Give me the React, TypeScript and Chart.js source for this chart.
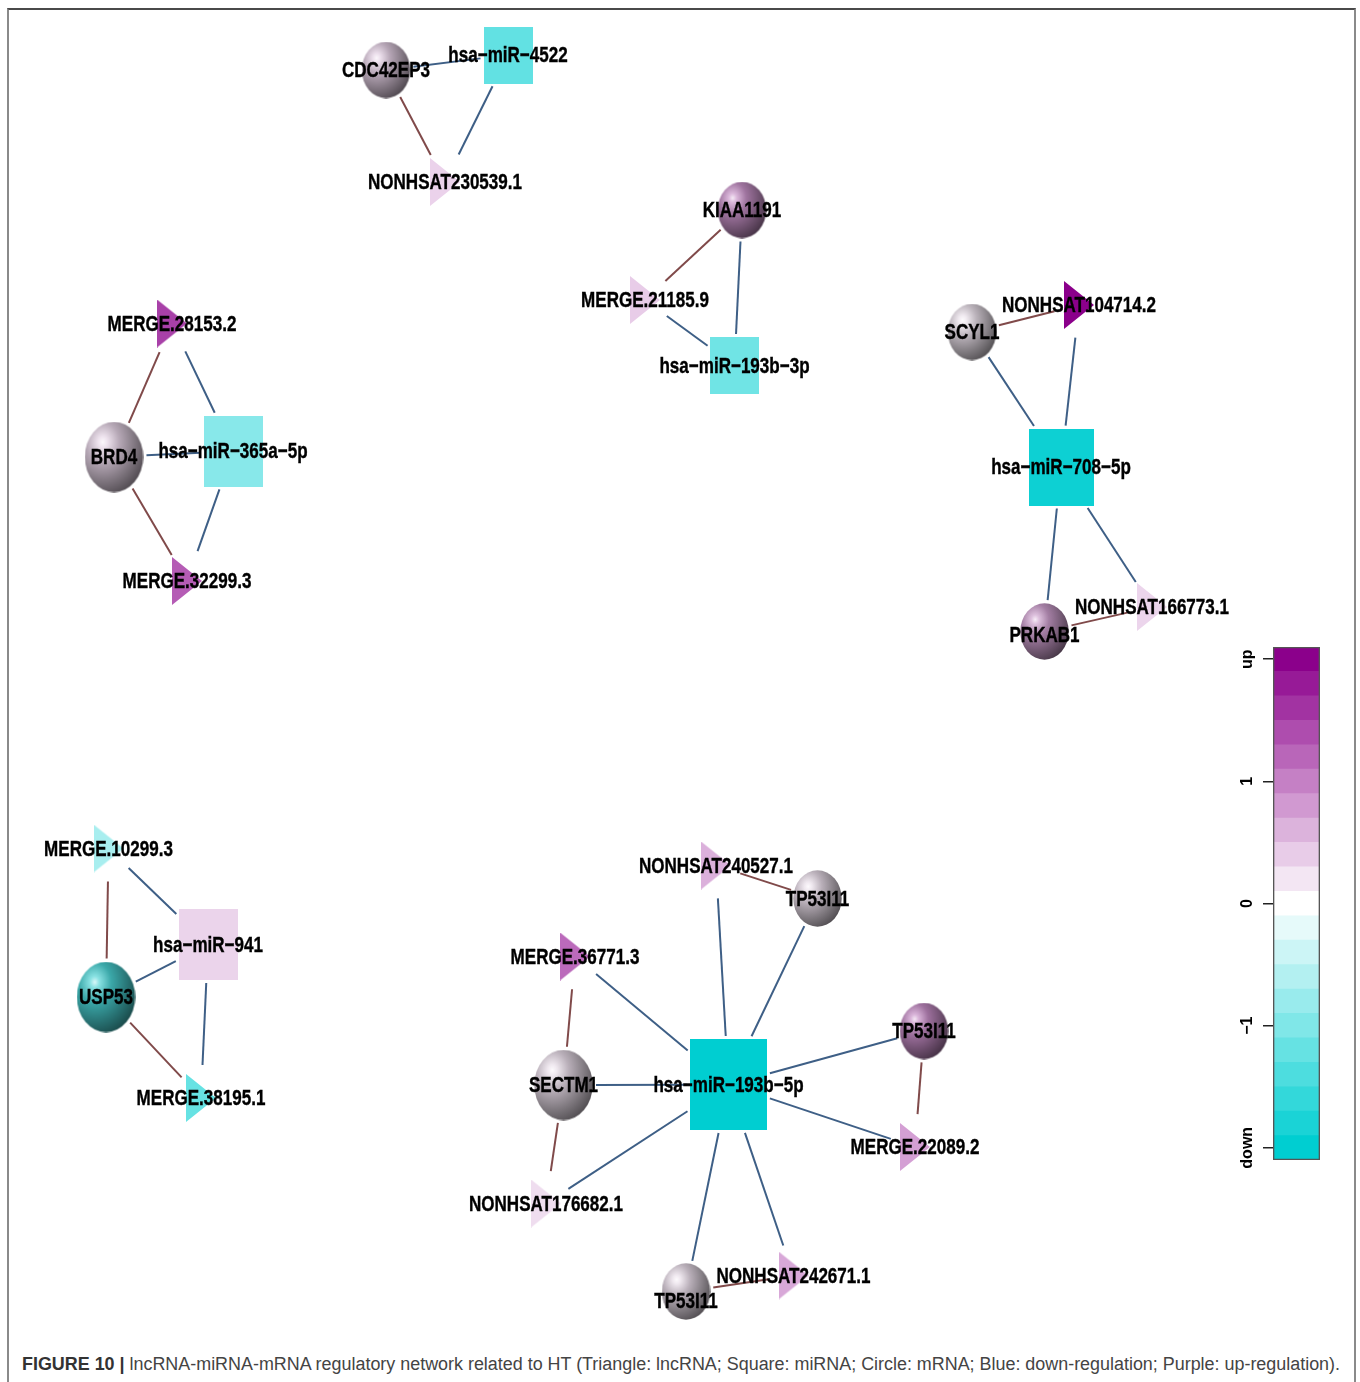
import React, { useEffect, useLayoutEffect, useRef } from 'react';
import { Chart, registerables } from 'chart.js';

Chart.register(...registerables);

// ------------------------------------------------------------------ data
const nodeIds = [
  'CDC42EP3', 'hsa-miR-4522', 'NONHSAT230539.1',
  'KIAA1191', 'MERGE.21185.9', 'hsa-miR-193b-3p',
  'MERGE.28153.2', 'BRD4', 'hsa-miR-365a-5p', 'MERGE.32299.3',
  'SCYL1', 'NONHSAT104714.2', 'hsa-miR-708-5p', 'PRKAB1', 'NONHSAT166773.1',
  'MERGE.10299.3', 'hsa-miR-941', 'USP53', 'MERGE.38195.1',
  'hsa-miR-193b-5p', 'NONHSAT240527.1', 'TP53I11_a', 'MERGE.36771.3', 'SECTM1',
  'TP53I11_b', 'MERGE.22089.2', 'NONHSAT176682.1', 'TP53I11_c', 'NONHSAT242671.1',
];
const nodeLabels = [
  'CDC42EP3', 'hsa\u2212miR\u22124522', 'NONHSAT230539.1',
  'KIAA1191', 'MERGE.21185.9', 'hsa\u2212miR\u2212193b\u22123p',
  'MERGE.28153.2', 'BRD4', 'hsa\u2212miR\u2212365a\u22125p', 'MERGE.32299.3',
  'SCYL1', 'NONHSAT104714.2', 'hsa\u2212miR\u2212708\u22125p', 'PRKAB1', 'NONHSAT166773.1',
  'MERGE.10299.3', 'hsa\u2212miR\u2212941', 'USP53', 'MERGE.38195.1',
  'hsa\u2212miR\u2212193b\u22125p', 'NONHSAT240527.1', 'TP53I11', 'MERGE.36771.3', 'SECTM1',
  'TP53I11', 'MERGE.22089.2', 'NONHSAT176682.1', 'TP53I11', 'NONHSAT242671.1',
];
const nodeTypes = [
  'mRNA', 'miRNA', 'lncRNA',
  'mRNA', 'lncRNA', 'miRNA',
  'lncRNA', 'mRNA', 'miRNA', 'lncRNA',
  'mRNA', 'lncRNA', 'miRNA', 'mRNA', 'lncRNA',
  'lncRNA', 'miRNA', 'mRNA', 'lncRNA',
  'miRNA', 'lncRNA', 'mRNA', 'lncRNA', 'mRNA',
  'mRNA', 'lncRNA', 'lncRNA', 'mRNA', 'lncRNA',
];
// layout coordinates of the network
const nodeX = [
  386, 508, 445,
  742, 645, 734.5,
  172, 114, 233, 187,
  972, 1079, 1061, 1044.5, 1152,
  108.5, 208, 106, 201,
  728.5, 716, 817.5, 575, 563.5,
  924, 915, 546, 686, 793.5,
];
const nodeY = [
  70, 55, 182,
  210, 300, 365.5,
  323.5, 457, 451, 581,
  332, 305, 467, 631.5, 607,
  848.5, 944.5, 997, 1098,
  1084.5, 865.5, 898.5, 956.5, 1085,
  1031, 1147, 1203.5, 1291.5, 1275.5,
];
// regulation value (down = -2 ... up = +2)
const nodeValue = [
  0.3, -1.23, 0.35,
  0.8, 0.4, -1.12,
  1.5, 0.25, -0.93, 1.28,
  0.15, 2.0, -1.9, 0.7, 0.33,
  -0.68, 0.34, -1.4, -1.2,
  -2.0, 0.62, 0.2, 1.17, 0.2,
  0.85, 0.75, 0.27, 0.2, 0.68,
];

const edgeFrom = [
  'CDC42EP3', 'CDC42EP3', 'hsa-miR-4522',
  'KIAA1191', 'KIAA1191', 'MERGE.21185.9',
  'BRD4', 'BRD4', 'BRD4', 'hsa-miR-365a-5p', 'hsa-miR-365a-5p',
  'SCYL1', 'SCYL1', 'hsa-miR-708-5p', 'hsa-miR-708-5p', 'hsa-miR-708-5p', 'PRKAB1',
  'USP53', 'USP53', 'USP53', 'hsa-miR-941', 'hsa-miR-941',
  'hsa-miR-193b-5p', 'hsa-miR-193b-5p', 'hsa-miR-193b-5p', 'hsa-miR-193b-5p', 'hsa-miR-193b-5p',
  'hsa-miR-193b-5p', 'hsa-miR-193b-5p', 'hsa-miR-193b-5p', 'hsa-miR-193b-5p',
  'TP53I11_a', 'SECTM1', 'SECTM1', 'TP53I11_b', 'TP53I11_c',
];
const edgeTo = [
  'hsa-miR-4522', 'NONHSAT230539.1', 'NONHSAT230539.1',
  'MERGE.21185.9', 'hsa-miR-193b-3p', 'hsa-miR-193b-3p',
  'MERGE.28153.2', 'hsa-miR-365a-5p', 'MERGE.32299.3', 'MERGE.28153.2', 'MERGE.32299.3',
  'NONHSAT104714.2', 'hsa-miR-708-5p', 'NONHSAT104714.2', 'PRKAB1', 'NONHSAT166773.1', 'NONHSAT166773.1',
  'MERGE.10299.3', 'hsa-miR-941', 'MERGE.38195.1', 'MERGE.10299.3', 'MERGE.38195.1',
  'NONHSAT240527.1', 'TP53I11_a', 'MERGE.36771.3', 'SECTM1', 'TP53I11_b',
  'MERGE.22089.2', 'NONHSAT176682.1', 'TP53I11_c', 'NONHSAT242671.1',
  'NONHSAT240527.1', 'MERGE.36771.3', 'NONHSAT176682.1', 'MERGE.22089.2', 'NONHSAT242671.1',
];

const colorbarBands = [
  -2, -1.8, -1.6, -1.4, -1.2, -1, -0.8, -0.6, -0.4, -0.2, 0,
  0.2, 0.4, 0.6, 0.8, 1, 1.2, 1.4, 1.6, 1.8, 2,
];
const colorbarTicks = [-2, -1, 0, 1, 2];
const colorbarTickLabels = ['down', '\u22121', '0', '1', 'up'];

const captionBold = 'FIGURE 10 |';
const captionText =
  ' lncRNA-miRNA-mRNA regulatory network related to HT (Triangle: lncRNA; Square: miRNA; Circle: mRNA; Blue: down-regulation; Purple: up-regulation).';

// ------------------------------------------------------------------ style
const UP_RGB = [139, 0, 139];
const DOWN_RGB = [0, 206, 209];
const BAND_HALF = 0.1;
const SIZE_BY_DEGREE: Record<number, [number, number]> = {
  2: [49, 57],
  3: [59, 71],
  4: [65, 77],
  9: [77, 91],
};
const TRI_SIZE: [number, number] = [30, 48];
const TRI_CLIP: [number, number] = [22, 30];
const EDGE_GAP = 3;
const BLUE = '#3e5f86';
const BROWN = '#804a4a';
const LABEL_FONT = 'bold 22px "Liberation Sans", Arial, sans-serif';
const LABEL_REF_TEXT = 'NONHSAT230539.1';
const LABEL_REF_WIDTH = 154;
const LABEL_NUDGE: Record<string, number> = { TP53I11_c: 9, PRKAB1: 3 };
const CB_LABEL_OFFSET = 25.5;

function valueColor(v: number): number[] {
  const t = Math.min(1, Math.abs(v) / 2);
  const c = v >= 0 ? UP_RGB : DOWN_RGB;
  return c.map((ch) => Math.round(255 + (ch - 255) * t));
}
const rgbStr = (c: number[]) => `rgb(${c[0]},${c[1]},${c[2]})`;
const mixWhite = (c: number[], w: number) => c.map((ch) => Math.round(ch + (255 - ch) * w));
const shade = (c: number[], k: number) => c.map((ch) => Math.round(ch * k));

function sphereImage(w: number, h: number, rgb: number[]) {
  const cv = document.createElement('canvas');
  cv.width = w;
  cv.height = h;
  const g = cv.getContext('2d')!;
  g.translate(w / 2, h / 2);
  g.scale(1, h / w);
  const r = w / 2;
  const hx = -0.38 * r;
  const hy = -0.42 * r;
  const grad = g.createRadialGradient(hx, hy, 0, hx, hy, 1.6 * r);
  grad.addColorStop(0, rgbStr(mixWhite(rgb, 0.8)));
  grad.addColorStop(0.1, rgbStr(mixWhite(shade(rgb, 0.95), 0.35)));
  grad.addColorStop(0.35, rgbStr(shade(rgb, 0.76)));
  grad.addColorStop(0.7, rgbStr(shade(rgb, 0.52)));
  grad.addColorStop(1, rgbStr(shade(rgb, 0.32)));
  g.fillStyle = grad;
  g.beginPath();
  g.arc(0, 0, r - 0.3, 0, Math.PI * 2);
  g.fill();
  return cv;
}
function rectImage(w: number, h: number, rgb: number[]) {
  const cv = document.createElement('canvas');
  cv.width = w;
  cv.height = h;
  const g = cv.getContext('2d')!;
  g.fillStyle = rgbStr(rgb);
  g.fillRect(0, 0, w, h);
  return cv;
}
function triImage(w: number, h: number, rgb: number[]) {
  const cv = document.createElement('canvas');
  cv.width = w;
  cv.height = h;
  const g = cv.getContext('2d')!;
  g.fillStyle = rgbStr(rgb);
  g.beginPath();
  g.moveTo(0, 0);
  g.lineTo(w, h / 2);
  g.lineTo(0, h);
  g.closePath();
  g.fill();
  return cv;
}

export default function App() {
  const mainRef = useRef<HTMLCanvasElement>(null);
  const cbRef = useRef<HTMLCanvasElement>(null);
  const capRef = useRef<HTMLDivElement>(null);

  useLayoutEffect(() => {
    const el = capRef.current;
    if (!el) return;
    el.style.transform = 'none';
    const w = el.getBoundingClientRect().width;
    if (w > 0) el.style.transform = `scaleX(${1318 / w})`;
  }, []);

  useEffect(() => {
    const idx = new Map(nodeIds.map((id, i) => [id, i]));
    const degree = nodeIds.map(
      (id) => edgeFrom.filter((f) => f === id).length + edgeTo.filter((t) => t === id).length,
    );
    const dims = nodeIds.map((_, i) =>
      nodeTypes[i] === 'lncRNA' ? TRI_SIZE : SIZE_BY_DEGREE[degree[i]] || SIZE_BY_DEGREE[2],
    );
    const images = nodeIds.map((_, i) => {
      const rgb = valueColor(nodeValue[i]);
      const [w, h] = dims[i];
      if (nodeTypes[i] === 'mRNA') return sphereImage(w, h, rgb);
      if (nodeTypes[i] === 'miRNA') return rectImage(w, h, rgb);
      return triImage(w, h, rgb);
    });

    const reach = (i: number, ux: number, uy: number) => {
      const [w, h] = dims[i];
      if (nodeTypes[i] === 'miRNA') {
        const a = Math.abs(ux) > 1e-9 ? w / 2 / Math.abs(ux) : Infinity;
        const b = Math.abs(uy) > 1e-9 ? h / 2 / Math.abs(uy) : Infinity;
        return Math.min(a, b) + EDGE_GAP;
      }
      const rx = nodeTypes[i] === 'mRNA' ? w / 2 : TRI_CLIP[0];
      const ry = nodeTypes[i] === 'mRNA' ? h / 2 : TRI_CLIP[1];
      return 1 / Math.sqrt((ux / rx) ** 2 + (uy / ry) ** 2) + EDGE_GAP;
    };

    const edgeSets = edgeFrom.map((f, k) => {
      const a = idx.get(f)!;
      const b = idx.get(edgeTo[k])!;
      const dx = nodeX[b] - nodeX[a];
      const dy = nodeY[b] - nodeY[a];
      const L = Math.hypot(dx, dy);
      const ux = dx / L;
      const uy = dy / L;
      const ra = reach(a, ux, uy);
      const rb = reach(b, -ux, -uy);
      const isMi = nodeTypes[a] === 'miRNA' || nodeTypes[b] === 'miRNA';
      return {
        data: [
          { x: nodeX[a] + ux * ra, y: nodeY[a] + uy * ra },
          { x: nodeX[b] - ux * rb, y: nodeY[b] - uy * rb },
        ],
        showLine: true,
        borderColor: isMi ? BLUE : BROWN,
        borderWidth: 2,
        pointRadius: 0,
        order: 2,
      };
    });

    const labelPlugin = {
      id: 'nodeLabels',
      afterDatasetsDraw(chart: any) {
        const { ctx } = chart;
        const xs = chart.scales.x;
        const ys = chart.scales.y;
        ctx.save();
        ctx.font = LABEL_FONT;
        const sx = LABEL_REF_WIDTH / ctx.measureText(LABEL_REF_TEXT).width;
        ctx.fillStyle = '#000';
        ctx.strokeStyle = '#000';
        ctx.lineWidth = 0.4;
        ctx.textAlign = 'center';
        ctx.textBaseline = 'middle';
        nodeLabels.forEach((lab, i) => {
          ctx.save();
          ctx.translate(
            xs.getPixelForValue(nodeX[i]),
            ys.getPixelForValue(nodeY[i]) + (LABEL_NUDGE[nodeIds[i]] || 0),
          );
          ctx.scale(sx, 1);
          ctx.fillText(lab, 0, 1);
          ctx.strokeText(lab, 0, 1);
          ctx.restore();
        });
        ctx.restore();
      },
    };

    const main = new Chart(mainRef.current!, {
      type: 'scatter',
      data: {
        datasets: [
          {
            data: nodeX.map((x, i) => ({ x, y: nodeY[i] })),
            pointStyle: images as any,
            pointRadius: 10,
            order: 0,
          } as any,
          ...edgeSets,
        ],
      },
      options: {
        responsive: false,
        animation: false,
        events: [],
        layout: { padding: 0, autoPadding: false },
        plugins: { legend: { display: false }, tooltip: { enabled: false } },
        scales: {
          x: { type: 'linear', min: 0, max: 1360, display: false },
          y: { type: 'linear', min: 0, max: 1345, reverse: true, display: false },
        },
      } as any,
      plugins: [labelPlugin],
    });

    const cbLabelPlugin = {
      id: 'cbLabels',
      afterDraw(chart: any) {
        const { ctx } = chart;
        const s = chart.scales.y;
        const left = chart.chartArea.left;
        ctx.save();
        ctx.font = 'bold 16px "Liberation Sans", Arial, sans-serif';
        ctx.fillStyle = '#000';
        ctx.textAlign = 'center';
        ctx.textBaseline = 'middle';
        colorbarTicks.forEach((v, i) => {
          ctx.save();
          ctx.translate(left - CB_LABEL_OFFSET, s.getPixelForValue(v));
          ctx.rotate(-Math.PI / 2);
          ctx.fillText(colorbarTickLabels[i], 0, 0);
          ctx.restore();
        });
        ctx.restore();
      },
    };

    const cb = new Chart(cbRef.current!, {
      type: 'bar',
      data: {
        labels: ['value'],
        datasets: [
          ...colorbarBands.map((v) => ({
            data: [[v - BAND_HALF, v + BAND_HALF]],
            backgroundColor: rgbStr(valueColor(v)),
            borderWidth: 0,
            grouped: false,
            barPercentage: 1,
            categoryPercentage: 1,
            order: 1,
          })),
          {
            data: [[colorbarBands[0] - BAND_HALF, colorbarBands[colorbarBands.length - 1] + BAND_HALF]],
            backgroundColor: 'rgba(0,0,0,0)',
            borderColor: '#555',
            borderWidth: 1,
            borderSkipped: false,
            grouped: false,
            barPercentage: 1,
            categoryPercentage: 1,
            order: -1,
          },
        ] as any,
      },
      options: {
        responsive: false,
        animation: false,
        events: [],
        layout: { padding: { left: 0, right: 10, top: 17, bottom: 15 } },
        plugins: { legend: { display: false }, tooltip: { enabled: false } },
        scales: {
          x: { display: false },
          y: {
            position: 'left',
            min: -2.1,
            max: 2.1,
            afterFit: (s: any) => {
              s.width = 73;
            },
            afterBuildTicks: (s: any) => {
              s.ticks = colorbarTicks.map((v) => ({ value: v }));
            },
            ticks: { display: false },
            grid: { drawOnChartArea: false, drawTicks: true, tickLength: 10, color: '#222', lineWidth: 1.5 },
            border: { display: false },
          },
        },
      } as any,
      plugins: [cbLabelPlugin],
    });

    return () => {
      main.destroy();
      cb.destroy();
    };
  }, []);

  return (
    <>
      <div
        style={{
          position: 'absolute',
          left: 7,
          top: 8,
          width: 1349,
          height: 1374,
          boxSizing: 'border-box',
          borderTop: '2px solid #4a4a4a',
          borderLeft: '2px solid #8a8a8a',
          borderRight: '2px solid #8a8a8a',
        }}
      />
      <canvas ref={mainRef} width={1360} height={1345} style={{ position: 'absolute', left: 0, top: 0 }} />
      <canvas ref={cbRef} width={130} height={545} style={{ position: 'absolute', left: 1200, top: 630 }} />
      <div
        ref={capRef}
        style={{
          position: 'absolute',
          left: 22,
          top: 1354,
          whiteSpace: 'nowrap',
          fontFamily: '"Liberation Sans", Arial, sans-serif',
          fontSize: 18,
          lineHeight: '20px',
          color: '#444',
          transformOrigin: '0 0',
        }}
      >
        <b style={{ color: '#333' }}>{captionBold}</b>
        {captionText}
      </div>
    </>
  );
}
